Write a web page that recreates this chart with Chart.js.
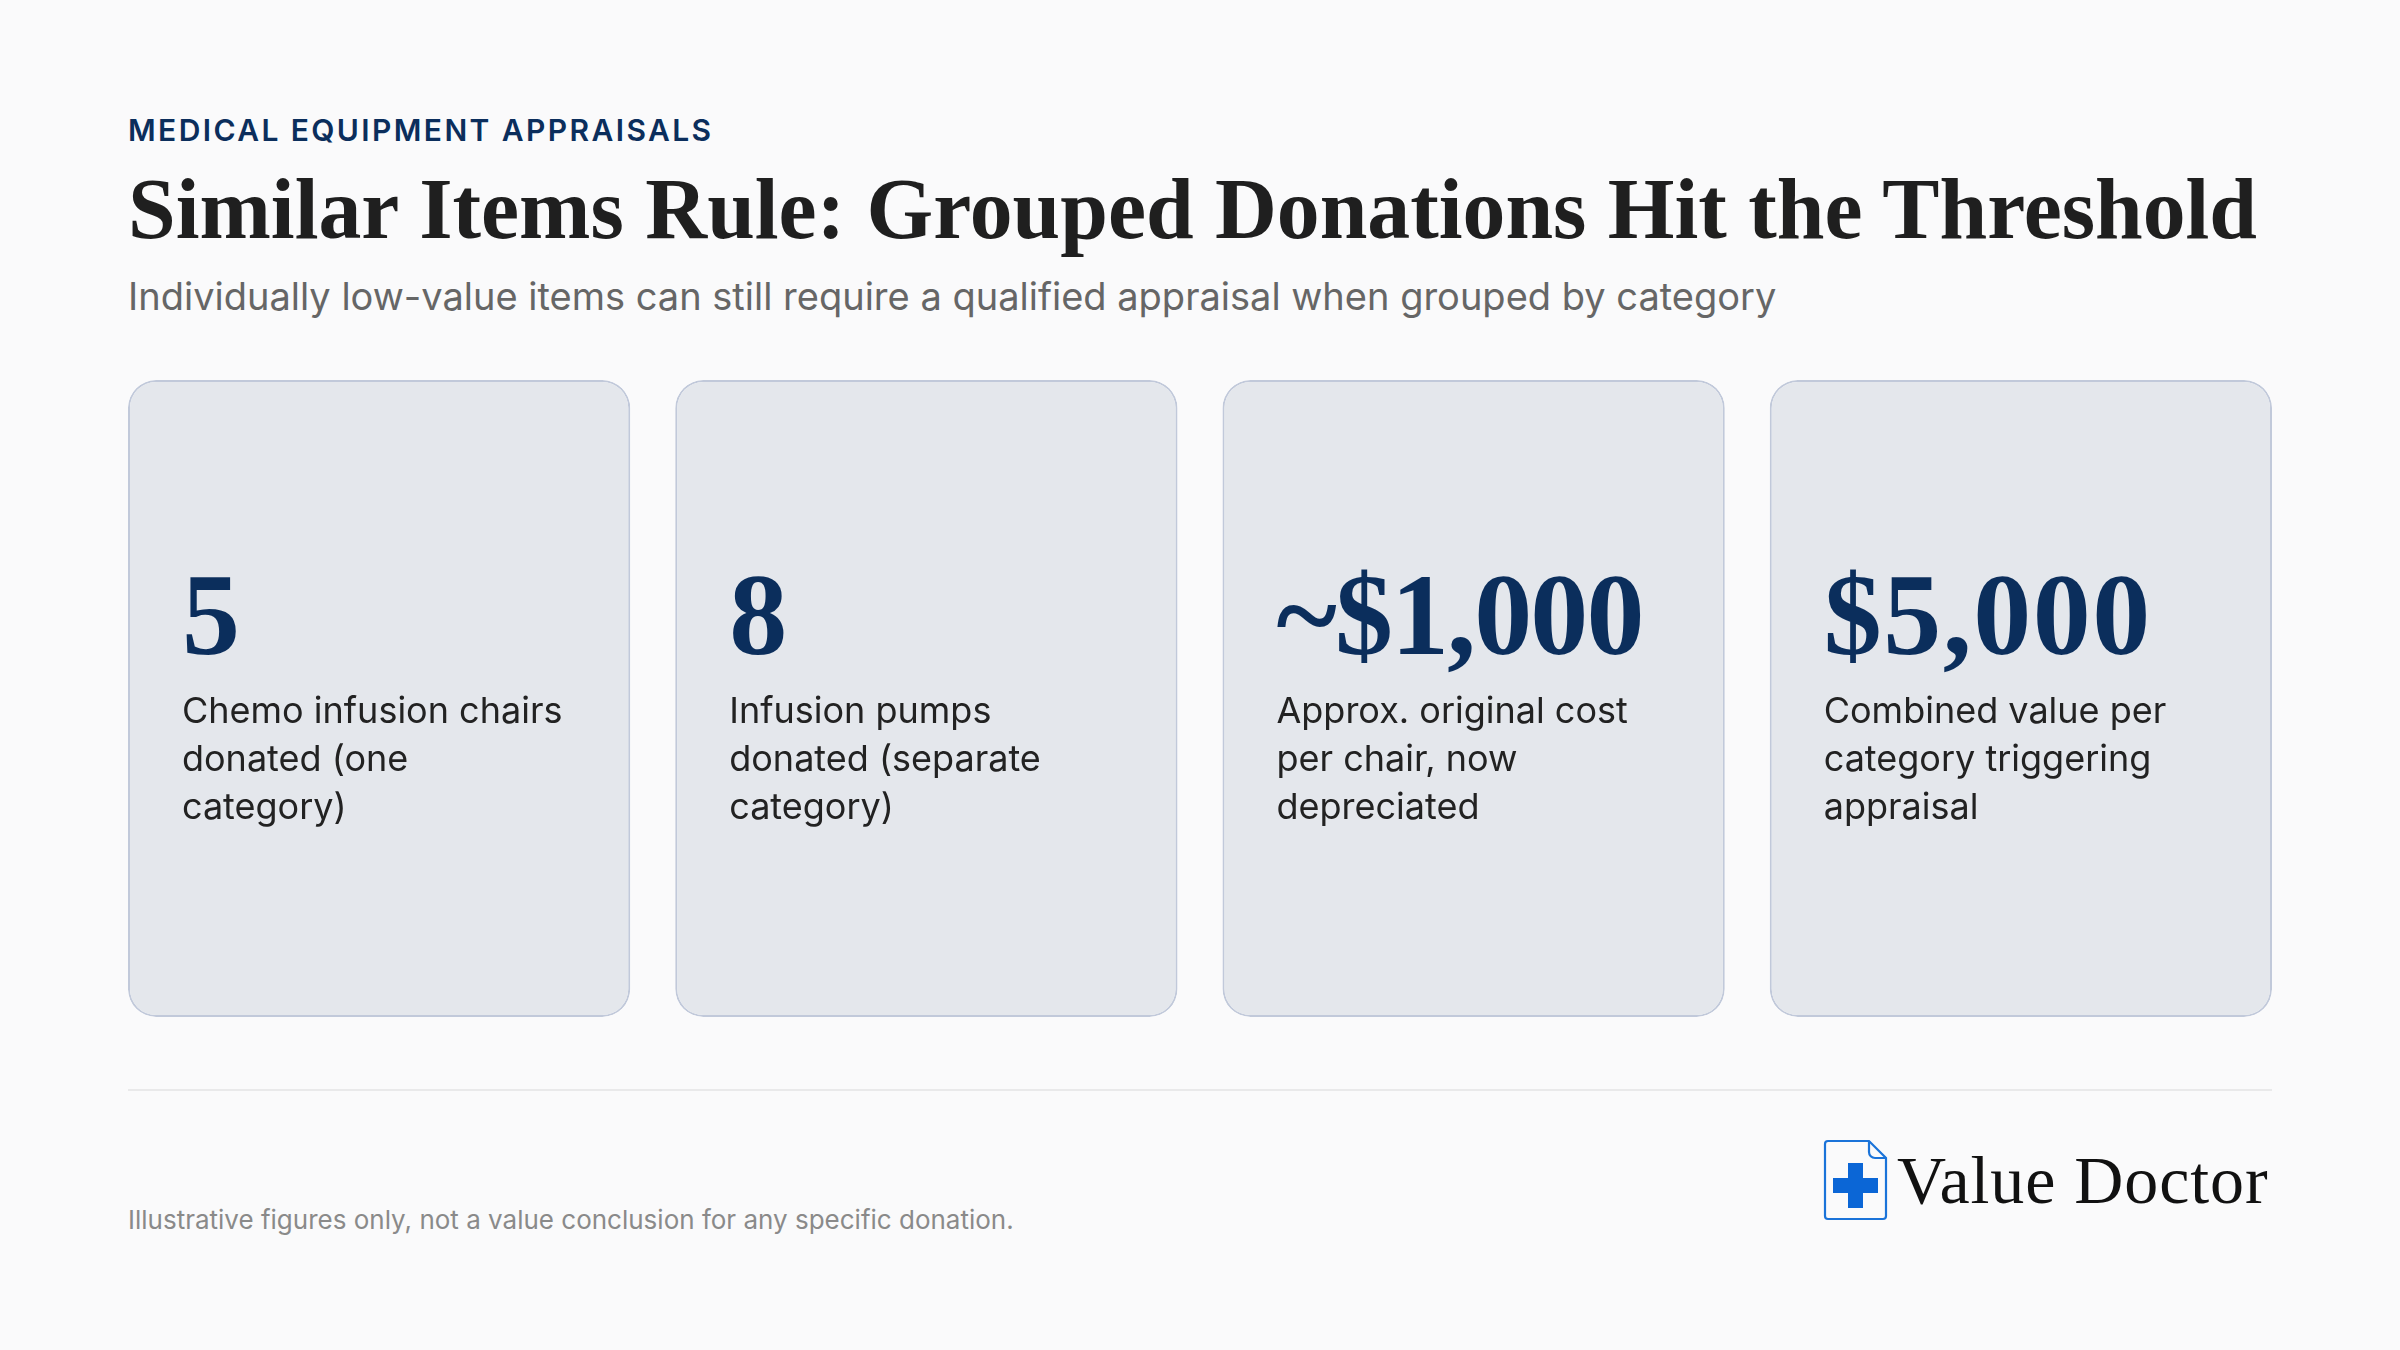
<!DOCTYPE html>
<html>
<head>
    <title>Similar Items Rule</title>
    <script src="https://cdn.jsdelivr.net/npm/chart.js"></script>
    <style>
        html, body {
            margin: 0;
            padding: 0;
            width: 2400px;
            height: 1350px;
            overflow: hidden;
            background: #fafafb;
        }

        .txt {
            position: absolute;
            white-space: nowrap;
            margin: 0;
        }

        #eyebrow {
            left: 128px;
            top: 110px;
            font: 600 30px/40px 'Inter', sans-serif;
            letter-spacing: 2.4px;
            color: #0b2e5c;
        }

        #title {
            left: 128px;
            top: 160px;
            font: bold 85.7px/100px 'Liberation Serif', serif;
            color: #1f1f1f;
        }

        #subtitle {
            left: 128px;
            top: 271px;
            font: 400 38px/50px 'Inter', sans-serif;
            color: #666666;
        }

        #cards {
            position: absolute;
            left: 105px;
            top: 380px;
            width: 2190px;
            height: 637px;
        }

        .stat {
            top: 550px;
            font: bold 116px/130px 'Liberation Serif', serif;
            color: #0b2e5c;
        }

        .label {
            top: 686px;
            font: 400 36px/48px 'Inter', sans-serif;
            color: #222222;
        }

        #divider {
            position: absolute;
            left: 128px;
            top: 1089px;
            width: 2144px;
            height: 2px;
            background: #e9e9ea;
        }

        #note {
            left: 128px;
            top: 1202px;
            font: 400 26px/36px 'Inter', sans-serif;
            color: #8a8a8a;
        }

        #logo-icon {
            position: absolute;
            left: 1822px;
            top: 1138px;
        }

        #logo-text {
            left: 1897px;
            top: 1140px;
            font: 400 68px/80px 'Liberation Serif', serif;
            letter-spacing: 0.9px;
            color: #111111;
        }
    </style>
</head>

<body>
    <p class="txt" id="eyebrow">MEDICAL EQUIPMENT APPRAISALS</p>
    <h1 class="txt" id="title">Similar Items Rule: Grouped Donations Hit the Threshold</h1>
    <p class="txt" id="subtitle">Individually low-value items can still require a qualified appraisal when grouped by category</p>

    <div id="cards"><canvas id="cardChart"></canvas></div>

    <div id="divider"></div>
    <p class="txt" id="note">Illustrative figures only, not a value conclusion for any specific donation.</p>

    <svg id="logo-icon" width="68" height="84" viewBox="0 0 68 84">
        <path d="M6 3 H47 L64 20 V78 a3 3 0 0 1 -3 3 H6 a3 3 0 0 1 -3 -3 V6 a3 3 0 0 1 3 -3 Z" fill="none" stroke="#1a73d9" stroke-width="2.2" />
        <path d="M47 3 V14 a6 6 0 0 0 6 6 H64" fill="none" stroke="#1a73d9" stroke-width="2.2" />
        <path d="M26 25 H41 V40 H56 V55 H41 V70 H26 V55 H11 V40 H26 Z" fill="#0b66d6" />
    </svg>
    <div class="txt" id="logo-text">Value Doctor</div>

    <script>
        const categories = ['Chairs', 'Pumps', 'Cost per chair', 'Threshold'];
        const cardFill = [1, 1, 1, 1];
        const statValues = ['5', '8', '~$1,000', '$5,000'];
        const statLabels = [
            ['Chemo infusion chairs', 'donated (one', 'category)'],
            ['Infusion pumps', 'donated (separate', 'category)'],
            ['Approx. original cost', 'per chair, now', 'depreciated'],
            ['Combined value per', 'category triggering', 'appraisal']
        ];
        // the serif here is a bit narrower/wider than the original per glyph
        const statTracking = ['0', '0', '-1.9px', '1.5px'];

        const chart = new Chart(document.getElementById('cardChart'), {
            type: 'bar',
            data: {
                labels: categories,
                datasets: [{
                    data: cardFill,
                    backgroundColor: '#e4e7ec',
                    borderColor: '#c1c9da',
                    borderWidth: 2,
                    borderRadius: 28,
                    borderSkipped: false,
                    barPercentage: 0.9178,
                    categoryPercentage: 1
                }]
            },
            options: {
                responsive: true,
                maintainAspectRatio: false,
                animation: false,
                events: [],
                layout: { padding: { left: 0.5, right: 0.5 } },
                plugins: {
                    legend: { display: false },
                    tooltip: { enabled: false }
                },
                scales: {
                    x: { display: false },
                    y: { display: false, min: 0, max: 1 }
                }
            }
        });

        // card texts follow the bars the chart just laid out
        const box = document.getElementById('cards').offsetLeft;
        chart.getDatasetMeta(0).data.forEach((bar, i) => {
            const left = box + bar.x - bar.width / 2 + 54;

            const stat = document.createElement('div');
            stat.className = 'txt stat';
            stat.style.left = left + 'px';
            stat.style.letterSpacing = statTracking[i];
            stat.textContent = statValues[i];
            document.body.appendChild(stat);

            const label = document.createElement('div');
            label.className = 'txt label';
            label.style.left = left + 'px';
            label.innerHTML = statLabels[i].join('<br>');
            document.body.appendChild(label);
        });
    </script>
</body>

</html>
